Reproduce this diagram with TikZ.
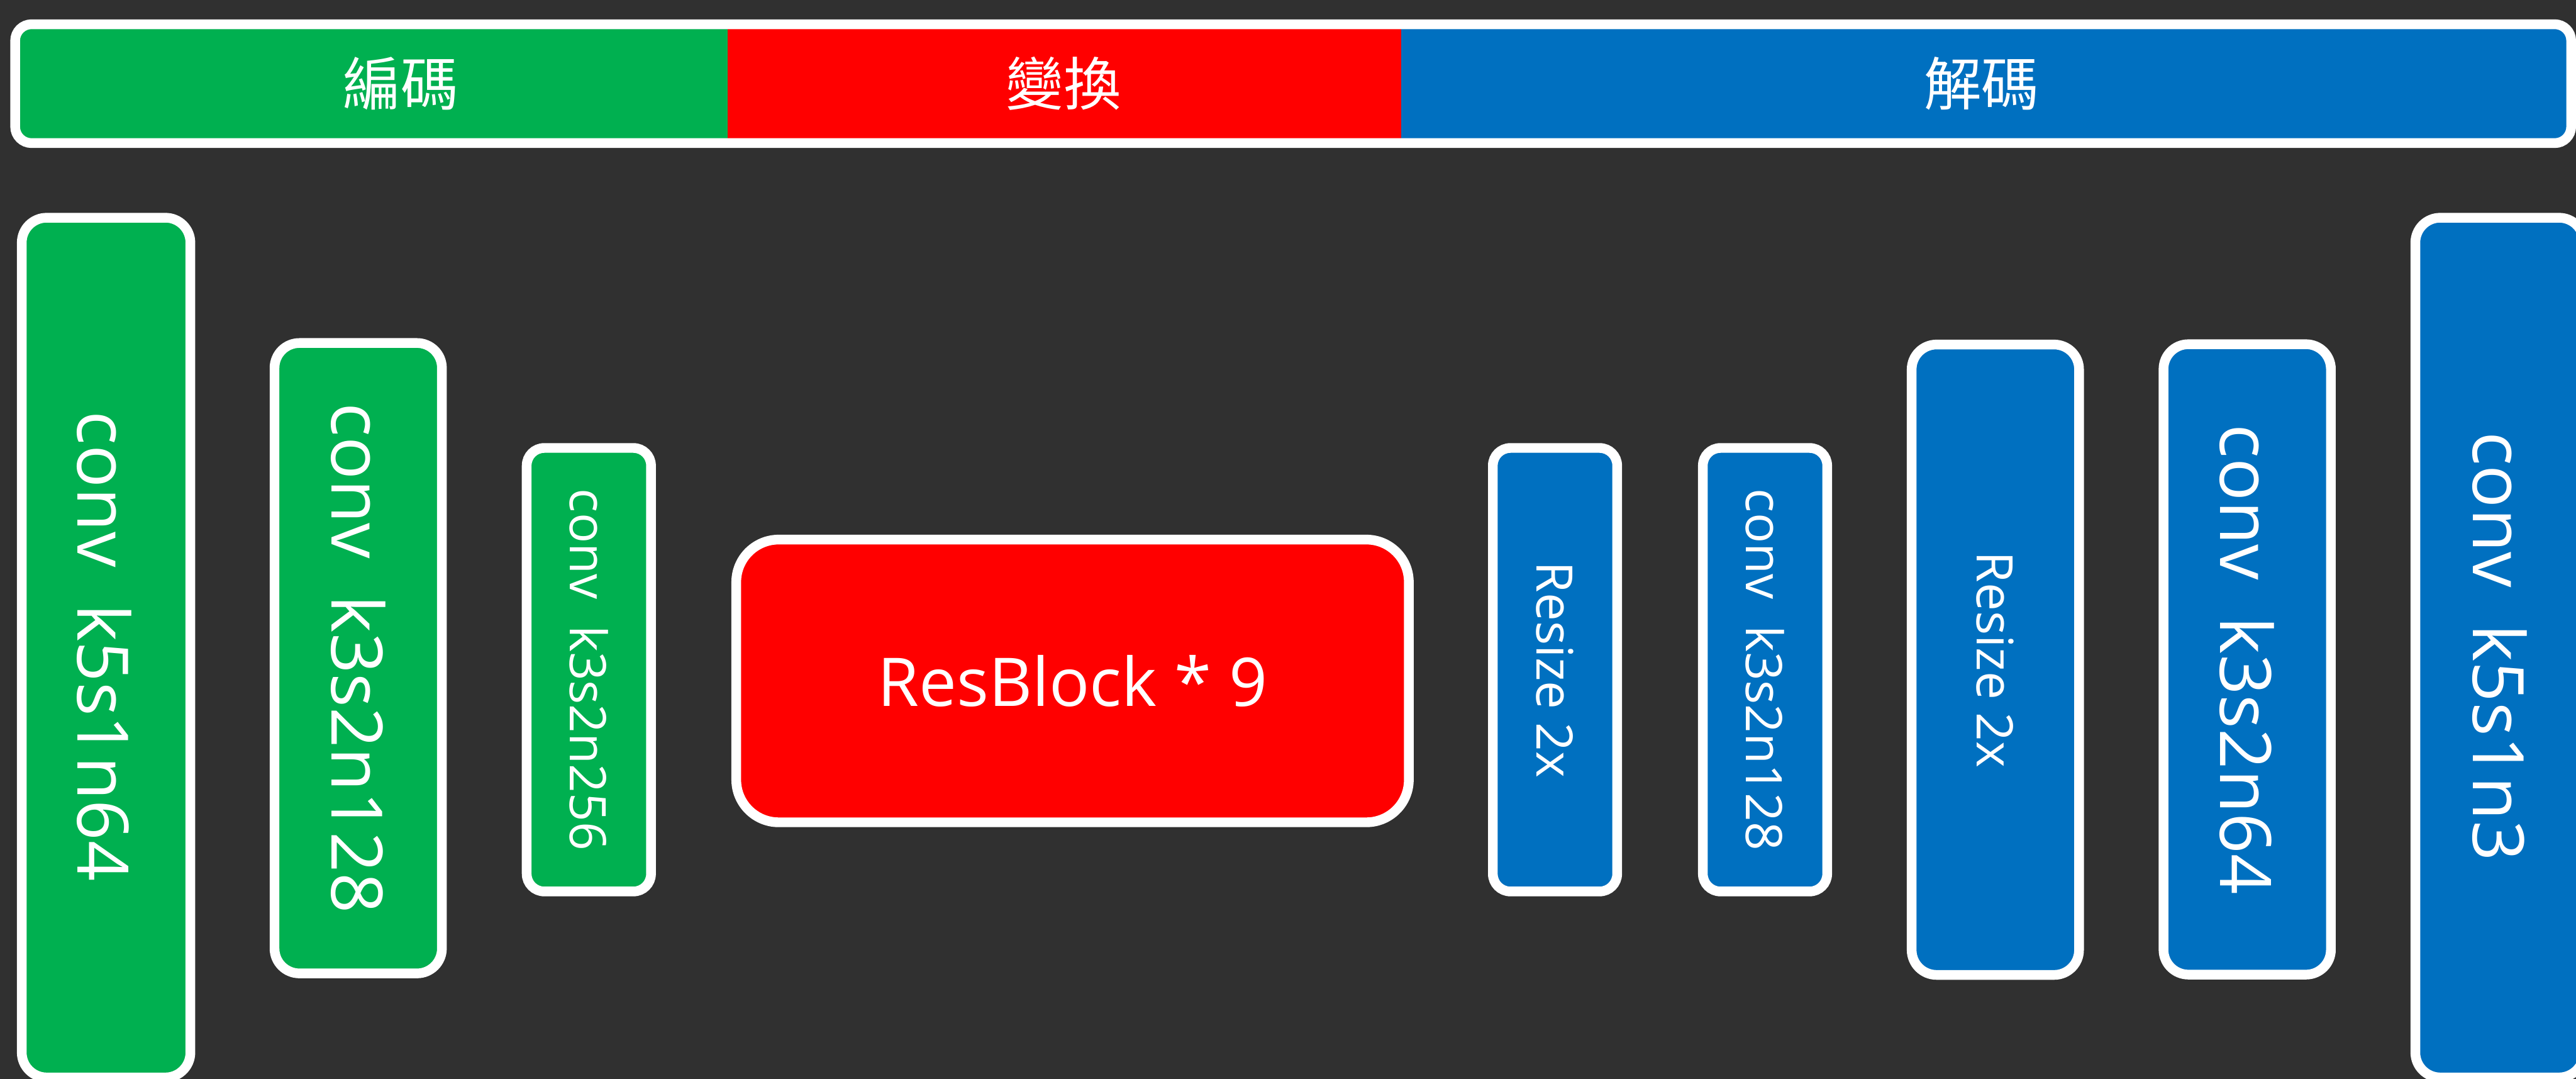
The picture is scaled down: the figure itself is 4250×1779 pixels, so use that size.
\documentclass[tikz,border=0pt]{standalone}
\usepackage{fontspec}
\setmainfont{Open Sans}
\newfontfamily\cjk{Noto Sans CJK TC}
\definecolor{bg}{HTML}{303030}
\definecolor{encgreen}{HTML}{00B050}
\definecolor{tfred}{HTML}{FF0000}
\definecolor{decblue}{HTML}{0070C0}
\tikzset{
  blk/.style={draw=white, line width=0.16cm, rectangle, inner sep=0pt, outer sep=0pt},
  tallbox/.style={blk, minimum width=2.78cm, minimum height=14.17cm, rounded corners=0.41cm},
  midbox/.style={blk, minimum width=2.76cm, minimum height=10.39cm, rounded corners=0.41cm},
  smallbox/.style={blk, minimum width=2.05cm, minimum height=7.31cm, rounded corners=0.29cm},
  resbox/.style={blk, minimum width=11.09cm, minimum height=4.66cm, rounded corners=0.70cm},
  bigtxt/.style={text=white, font=\fontsize{33.3}{40}\selectfont, rotate=-90, inner sep=0pt},
  smalltxt/.style={text=white, font=\fontsize{23.6}{28}\selectfont, rotate=-90, inner sep=0pt},
  restxt/.style={text=white, font=\fontsize{31.5}{38}\selectfont, inner sep=0pt},
  cjktxt/.style={text=white, font=\cjk\fontsize{27}{32}\selectfont, inner sep=0pt},
}
\begin{document}
\begin{tikzpicture}[x=0.01cm,y=-0.01cm]
\useasboundingbox (0,0) rectangle (4250,1779);
\fill[bg] (0,0) rectangle (4250,1779);
\clip (0,0) rectangle (4250,1779);

% top bar
\begin{scope}
  \clip[rounded corners=0.27cm] (25,40) rectangle (4242,236);
  \fill[encgreen] (0,0) rectangle (1201,300);
  \fill[tfred] (1201,0) rectangle (2312,300);
  \fill[decblue] (2312,0) rectangle (4300,300);
\end{scope}
\draw[white, line width=0.16cm, rounded corners=0.27cm] (25,40) rectangle (4242,236);
\node[cjktxt] (enc) at (661,138) {編碼};
\node[cjktxt] (tf) at (1755,138) {變換};
\node[cjktxt] (dec) at (3269,138) {解碼};

% encoder
\node[tallbox, fill=encgreen] (b1) at (175,1068) {};
\node[bigtxt] (b1t) at (172,1066) {conv~~k5s1n64};
\node[midbox, fill=encgreen] (b2) at (591,1085.5) {};
\node[bigtxt] (b2t) at (b2.center) {conv~~k3s2n128};
\node[smallbox, fill=encgreen] (b3) at (971.5,1104.5) {};
\node[smalltxt] (b3t) at (b3.center) {conv~~k3s2n256};

% transform
\node[resbox, fill=tfred] (res) at (1769.5,1123) {};
\node[restxt] (rest) at (res.center) {ResBlock * 9};

% decoder
\node[smallbox, fill=decblue] (b4) at (2565.5,1104.5) {};
\node[smalltxt] (b4t) at (b4.center) {Resize 2x};
\node[smallbox, fill=decblue] (b5) at (2912,1104.5) {};
\node[smalltxt] (b5t) at (b5.center) {conv~~k3s2n128};
\node[midbox, fill=decblue] (b6) at (3292,1088) {};
\node[smalltxt] (b6t) at (b6.center) {Resize 2x};
\node[midbox, fill=decblue] (b7) at (3707.5,1087.5) {};
\node[bigtxt] (b7t) at (b7.center) {conv~~k3s2n64};
\node[tallbox, fill=decblue] (b8) at (4124,1068) {};
\node[bigtxt] (b8t) at (4124,1066) {conv~~k5s1n3};
\end{tikzpicture}
\end{document}
